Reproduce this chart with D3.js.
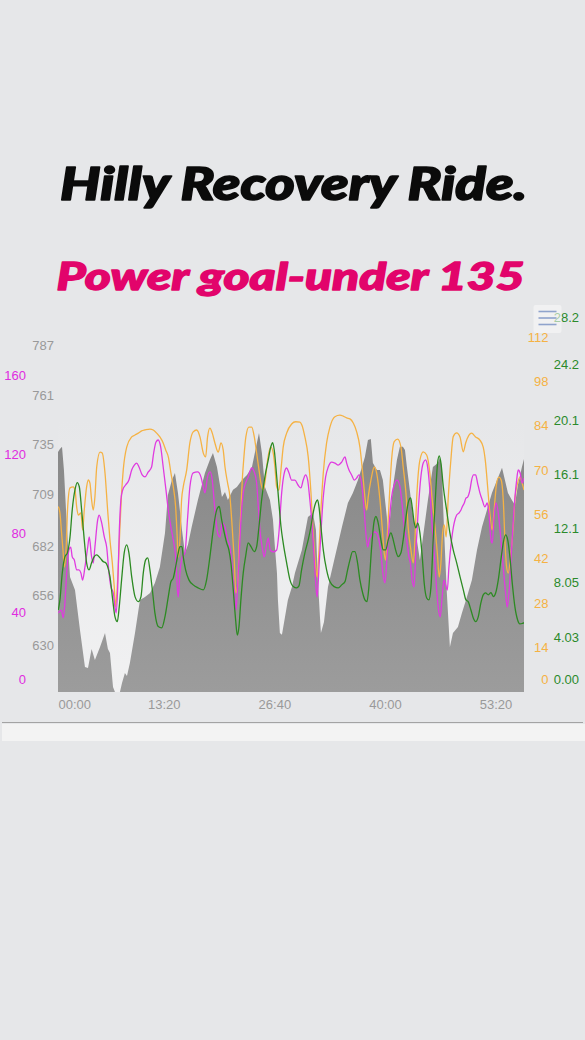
<!DOCTYPE html>
<html>
<head>
<meta charset="utf-8">
<script src="https://cdn.jsdelivr.net/npm/d3@7/dist/d3.min.js"></script>
<style>
  html, body { margin: 0; padding: 0; background: #e6e7e9; }
  svg { display: block; }
</style>
</head>
<body>
<svg id="chart" width="585" height="1040"></svg>
<script>
// Ride time in seconds for each series sample
const elevTime = [35,49,64,78,93,107,122,158,194,230,252,278,302,339,375,396,411,433,447,483,498,519,534,555,592,628,664,701,736,772,809,830,859,881,903,932,953,975,1002,1047,1098,1134,1156,1185,1221,1243,1264,1301,1329,1366,1402,1438,1474,1489,1510,1532,1568,1590,1604,1619,1626,1640,1655,1677,1698,1727,1749,1799,1843,1879,1901,1915,1930,1937,1959,1988,2038,2089,2132,2168,2205,2234,2255,2277,2298,2313,2342,2364,2385,2414,2422,2436,2458,2487,2508,2530,2545,2559,2595,2631,2653,2682,2711,2747,2783,2798,2812,2819,2834,2848,2870,2892,2928,2957,2993,3029,3066,3102,3138,3174,3211,3247,3268,3290,3318,3340,3362,3391,3406];
// Elevation (m)
const elevation = [731.5,733.1,734.2,722.1,701.2,682.9,666.1,659.3,638.4,619.0,618.5,628.4,622.7,629.5,636.8,628.4,626.3,608.5,605.9,605.9,610.6,615.9,614.3,621.1,636.8,654.1,655.6,657.7,663.0,671.3,689.1,709.0,716.9,720.5,710.1,690.7,678.7,682.9,692.3,706.4,720.5,727.4,731.0,723.7,708.0,710.6,706.4,711.7,713.2,716.9,719.5,723.7,736.3,741.5,731.0,713.2,706.4,696.0,681.8,668.2,654.1,636.8,635.8,645.2,654.1,660.9,668.2,680.2,697.5,699.6,690.7,664.5,645.2,636.8,642.6,660.9,676.6,692.3,704.8,710.1,716.9,723.7,728.9,737.8,738.3,725.8,722.1,722.1,716.9,697.5,685.5,695.9,713.2,727.4,734.2,734.2,732.6,723.7,702.8,685.5,675.0,690.7,706.4,723.7,725.8,728.4,723.7,706.4,680.2,657.7,629.5,636.8,639.9,647.3,655.6,664.5,680.2,692.3,701.2,710.1,716.9,723.2,716.9,710.1,706.4,703.8,714.3,723.7,727.9];

const powerTime = [37,59,73,85,98,114,127,138,153,170,187,201,213,230,250,261,278,290,302,322,333,351,370,387,404,418,435,447,456,467,478,490,503,524,548,568,587,604,621,644,664,688,712,727,744,760,778,796,816,833,852,869,886,901,905,917,934,953,973,989,1013,1045,1069,1086,1098,1117,1136,1151,1170,1190,1206,1223,1243,1262,1279,1295,1310,1322,1334,1351,1363,1375,1392,1411,1436,1455,1472,1484,1498,1512,1527,1541,1556,1570,1592,1617,1633,1653,1672,1689,1706,1725,1749,1771,1792,1809,1826,1841,1857,1874,1889,1901,1910,1923,1937,1954,1971,1990,2014,2038,2062,2087,2111,2123,2140,2159,2178,2195,2212,2231,2248,2262,2275,2286,2304,2323,2340,2356,2371,2385,2400,2414,2429,2448,2467,2487,2506,2521,2540,2557,2574,2584,2597,2610,2624,2641,2660,2677,2694,2709,2725,2742,2762,2776,2791,2800,2814,2827,2839,2851,2863,2882,2901,2919,2935,2950,2959,2974,2986,2998,3015,3027,3041,3056,3070,3087,3104,3123,3140,3152,3167,3176,3190,3203,3220,3239,3256,3273,3285,3299,3316,3335,3353,3364,3378,3393,3406];
// Power (W)
const power = [40.0,41.5,37.5,45.1,60.2,71.9,73.4,68.4,66.8,61.8,61.8,60.2,56.7,63.3,73.4,78.5,68.4,65.3,73.4,87.1,89.6,85.6,78.5,73.4,60.2,53.2,50.1,43.0,40.0,53.2,80.5,97.2,102.3,104.8,107.3,112.4,114.9,115.9,113.9,109.9,108.9,111.4,113.9,121.0,126.6,127.6,124.0,113.9,102.3,92.1,83.5,77.0,68.4,50.1,48.1,60.2,68.4,70.4,88.6,103.8,110.9,111.4,108.9,103.8,100.8,108.9,111.4,107.3,92.1,80.5,78.5,85.6,83.5,77.0,73.4,63.3,51.6,41.5,53.2,77.0,92.1,100.8,105.8,108.9,113.4,111.4,105.8,93.7,80.5,73.4,68.4,73.4,78.0,71.9,70.9,71.9,80.5,100.8,110.9,113.4,110.9,107.3,107.3,104.8,103.3,107.3,109.9,107.3,97.2,83.5,66.8,53.2,48.1,63.3,80.5,98.7,108.9,113.9,116.4,115.9,114.9,116.4,119.0,115.9,112.4,109.9,107.3,108.3,109.9,105.8,93.7,80.5,73.4,77.0,79.5,81.0,80.5,77.0,70.4,60.2,55.2,66.8,83.5,98.7,104.8,107.3,104.8,97.2,83.5,77.0,68.4,65.3,56.7,53.2,71.9,92.1,108.9,115.9,117.5,113.9,102.3,83.5,65.3,50.1,40.0,38.0,48.1,56.7,54.2,51.6,63.3,77.0,85.6,89.6,90.6,92.1,93.7,95.7,98.2,98.7,102.3,107.3,109.9,109.9,105.8,100.8,97.2,93.7,95.7,90.6,77.0,75.4,88.6,95.7,90.6,77.0,63.3,50.1,43.0,51.6,71.9,93.7,107.3,112.4,110.9,105.8,108.3];

const cadenceTime = [37,49,61,71,80,93,105,122,145,158,170,182,201,213,225,242,254,266,278,290,302,315,339,355,375,394,411,428,442,452,461,471,483,495,507,532,568,592,616,640,664,700,724,749,772,796,814,833,852,869,886,895,905,917,929,941,966,989,1013,1038,1062,1086,1103,1117,1134,1151,1170,1194,1214,1230,1243,1262,1279,1295,1310,1322,1334,1344,1358,1368,1380,1394,1416,1436,1455,1472,1489,1503,1520,1537,1551,1575,1592,1604,1617,1633,1648,1664,1689,1725,1754,1785,1799,1821,1845,1865,1881,1899,1910,1923,1937,1954,1978,2002,2038,2074,2098,2123,2147,2171,2195,2219,2239,2255,2268,2279,2299,2323,2340,2364,2380,2395,2405,2418,2431,2448,2467,2492,2516,2532,2552,2568,2588,2605,2617,2629,2653,2677,2702,2725,2742,2762,2779,2793,2805,2817,2829,2843,2857,2877,2894,2919,2943,2967,2984,3008,3027,3056,3087,3111,3128,3143,3159,3176,3190,3208,3224,3241,3256,3268,3280,3292,3309,3328,3340,3360,3376,3393,3406];
// Cadence (rpm)
const cadence = [58.6,56.6,50.2,44.9,39.5,44.9,58.5,64.5,64.8,63.8,58.5,55.9,56.6,51.2,57.5,64.8,67.0,66.0,60.7,57.5,61.6,71.1,75.8,75.5,69.2,57.5,48.0,40.8,33.2,26.9,31.3,39.5,52.1,62.9,70.2,77.4,80.6,81.2,81.8,82.5,82.8,83.1,82.8,81.8,80.6,78.7,76.5,74.3,69.2,64.8,58.5,51.2,42.7,48.0,60.7,64.8,70.2,78.7,82.2,82.8,80.6,75.5,74.3,80.6,83.4,81.8,78.7,75.8,78.7,76.5,71.1,66.0,61.6,52.1,41.7,31.3,33.2,45.8,57.5,67.0,74.3,80.6,83.7,83.7,80.6,75.5,70.2,66.0,63.8,67.9,73.3,77.4,75.5,71.1,64.8,63.8,70.2,77.4,81.8,84.7,85.4,85.3,84.4,80.6,74.3,62.9,50.2,39.5,36.3,44.9,57.5,69.2,78.7,83.7,87.0,87.5,87.2,86.6,86.3,85.0,82.3,77.4,69.2,61.6,57.5,61.6,67.0,71.1,69.2,60.7,52.1,43.9,41.7,50.2,60.7,73.3,79.1,79.9,77.4,71.1,62.9,52.1,44.9,40.8,48.0,60.7,73.3,75.9,74.9,69.2,60.7,52.1,43.9,36.3,40.8,50.2,52.8,49.0,60.7,73.3,80.7,81.9,80.6,75.9,78.7,81.2,81.8,80.6,79.6,77.4,72.4,64.8,56.6,51.2,57.5,66.0,67.9,67.0,60.7,48.0,39.5,37.6,42.7,52.1,60.7,66.0,67.9,66.0,63.8];

const speedTime = [37,49,66,85,103,122,138,158,174,189,206,225,242,259,278,297,315,339,362,380,394,411,428,447,464,478,495,514,532,548,568,592,616,635,652,669,684,700,720,736,760,785,809,833,852,869,886,905,917,932,941,958,982,1013,1050,1086,1110,1134,1158,1183,1201,1219,1238,1255,1271,1286,1303,1320,1332,1344,1358,1375,1392,1411,1431,1455,1472,1489,1508,1532,1556,1575,1588,1599,1617,1633,1648,1664,1689,1713,1737,1761,1778,1797,1821,1845,1865,1881,1899,1913,1923,1937,1954,1978,2002,2033,2062,2087,2111,2130,2147,2166,2183,2202,2219,2239,2255,2270,2284,2304,2320,2335,2351,2371,2388,2405,2424,2443,2460,2477,2496,2516,2532,2550,2568,2586,2597,2612,2624,2637,2653,2670,2684,2702,2718,2733,2749,2767,2781,2793,2805,2822,2846,2870,2894,2919,2943,2967,2986,3002,3022,3039,3056,3075,3094,3111,3128,3148,3167,3184,3201,3220,3239,3256,3273,3288,3304,3321,3340,3360,3376,3393,3406];
// Speed (km/h)
const speed = [6.07,6.82,8.82,10.0,10.3,11.48,13.48,14.97,15.5,15.19,13.48,11.26,9.56,9.04,9.56,10.02,10.15,9.93,9.65,9.56,9.28,8.54,7.06,5.58,5.21,6.30,8.30,10.30,10.89,10.30,8.54,7.06,6.69,7.04,8.82,9.78,9.93,9.04,7.33,5.85,4.84,4.74,5.58,7.06,8.17,8.45,9.28,10.30,10.76,10.76,10.0,9.04,8.30,7.93,7.70,7.56,8.30,10.02,12.0,13.48,13.73,12.74,11.78,11.04,10.52,9.56,7.56,5.33,4.22,4.82,6.82,8.82,10.02,11.04,10.76,10.39,10.76,12.25,14.22,15.95,17.19,18.17,18.45,17.93,15.95,14.0,12.25,11.04,9.56,8.30,7.80,7.70,7.85,9.04,10.30,11.26,12.25,13.26,14.0,14.22,13.70,12.25,10.52,9.04,8.17,7.80,7.70,7.93,8.17,9.04,9.78,10.39,10.39,9.56,8.30,7.33,6.82,6.69,7.78,10.76,12.52,12.99,12.52,11.26,10.52,10.52,11.26,11.78,11.26,10.52,10.02,10.30,11.26,12.74,14.0,14.37,13.70,12.52,12.15,12.52,11.78,10.0,8.07,6.96,6.82,7.78,11.26,14.74,16.96,17.48,16.96,15.21,13.48,11.78,10.52,9.56,8.54,7.56,6.82,6.69,6.07,5.48,5.21,5.56,6.59,7.19,7.33,7.19,7.36,7.06,7.33,8.30,9.78,11.04,11.63,11.26,10.02,8.07,6.32,5.33,5.04,5.07,5.13];

// Axis ticks
const timeTicks = [0, 800, 1600, 2400, 3200];
const elevTicks = [630, 656, 682, 709, 735, 761, 787];
const powerTicks = [0, 40, 80, 120, 160];
const cadenceTicks = [0, 14, 28, 42, 56, 70, 84, 98, 112];
const speedTicks = [0, 4.03, 8.05, 12.1, 16.1, 20.1, 24.2, 28.2];
const speedTickLabels = ["0.00", "4.03", "8.05", "12.1", "16.1", "20.1", "24.2", "28.2"];

const titleText = "Hilly Recovery Ride.";
const subtitleText = "Power goal-under 135";

// Layout
const plot = { left: 58, right: 524, top: 311, bottom: 692 };
const colors = {
  bg: "#e6e7e9",
  power: "#e03ae0",
  powerLabel: "#e02ce0",
  cadence: "#f5b244",
  speed: "#2c8a22",
  speedLabel: "#2b8a2b",
  axisText: "#999999"
};

const svg = d3.select("#chart");

svg.append("rect").attr("width", 585).attr("height", 1040).attr("fill", colors.bg);

// Titles (stroked in their own colour for a heavier face)
svg.append("text")
  .attr("x", 60).attr("y", 200)
  .attr("textLength", 467).attr("lengthAdjust", "spacingAndGlyphs")
  .style("font-family", "Lato, 'Open Sans', sans-serif")
  .style("font-weight", 900).style("font-style", "italic")
  .style("font-size", "45px")
  .attr("fill", "#0b0b0b").attr("stroke", "#0b0b0b").attr("stroke-width", 1.6)
  .attr("stroke-linejoin", "round")
  .text(titleText);

svg.append("text")
  .attr("x", 56.5).attr("y", 290)
  .attr("textLength", 468).attr("lengthAdjust", "spacingAndGlyphs")
  .style("font-family", "Lato, 'Open Sans', sans-serif")
  .style("font-weight", 900).style("font-style", "italic")
  .style("font-size", "38px")
  .attr("fill", "#e2046b").attr("stroke", "#e2046b").attr("stroke-width", 1.4)
  .attr("stroke-linejoin", "round")
  .text(subtitleText);

// Scales
const x = d3.scaleLinear().domain([35, 3406]).range([plot.left, plot.right]);
const yElev = d3.scaleLinear().domain([605.9, 805.3]).range([plot.bottom, plot.top]);
const yPower = d3.scaleLinear().domain([0, 192.9]).range([plot.bottom, plot.top]);
const yCad = d3.scaleLinear().domain([0, 120.4]).range([plot.bottom, plot.top]);
const ySpeed = d3.scaleLinear().domain([0, 28.2]).range([plot.bottom, plot.top]);

const defs = svg.append("defs");
const bgGrad = defs.append("linearGradient").attr("id", "plotBg")
  .attr("gradientUnits", "userSpaceOnUse")
  .attr("x1", 0).attr("x2", 0).attr("y1", 420).attr("y2", plot.bottom);
bgGrad.append("stop").attr("offset", 0).attr("stop-color", "#e6e7e9");
bgGrad.append("stop").attr("offset", 1).attr("stop-color", "#f1f1f2");

const areaGrad = defs.append("linearGradient").attr("id", "elevFill")
  .attr("gradientUnits", "userSpaceOnUse")
  .attr("x1", 0).attr("x2", 0).attr("y1", 430).attr("y2", plot.bottom);
areaGrad.append("stop").attr("offset", 0).attr("stop-color", "#878787");
areaGrad.append("stop").attr("offset", 1).attr("stop-color", "#9c9c9c");

defs.append("clipPath").attr("id", "plotClip")
  .append("rect")
  .attr("x", plot.left).attr("y", plot.top - 5)
  .attr("width", plot.right - plot.left).attr("height", plot.bottom - plot.top + 5);

svg.append("rect")
  .attr("x", plot.left).attr("y", 420)
  .attr("width", plot.right - plot.left).attr("height", plot.bottom - 420)
  .attr("fill", "url(#plotBg)");

const g = svg.append("g").attr("clip-path", "url(#plotClip)");

const elevData = d3.zip(elevTime, elevation);
const powerData = d3.zip(powerTime, power);
const cadData = d3.zip(cadenceTime, cadence);
const speedData = d3.zip(speedTime, speed);

g.append("path")
  .datum(elevData)
  .attr("fill", "url(#elevFill)")
  .attr("d", d3.area()
    .x(d => x(d[0]))
    .y0(yElev(yElev.domain()[0]))
    .y1(d => yElev(d[1])));

function drawLine(data, yScale, color) {
  g.append("path")
    .datum(data)
    .attr("fill", "none")
    .attr("stroke", color)
    .attr("stroke-width", 1.3)
    .attr("stroke-linejoin", "round")
    .attr("d", d3.line()
      .curve(d3.curveMonotoneX)
      .x(d => x(d[0]))
      .y(d => yScale(d[1])));
}

drawLine(cadData, yCad, colors.cadence);
drawLine(powerData, yPower, colors.power);
drawLine(speedData, ySpeed, colors.speed);

// Y axes (labels only), labels kept inside the label band
const labelFont = "'Liberation Sans', Arial, sans-serif";
function drawYAxis(scale, ticks, xPos, color, fmt) {
  const axis = d3.axisLeft(scale).tickValues(ticks).tickSize(0).tickPadding(0);
  if (fmt) axis.tickFormat(fmt);
  const ax = svg.append("g").attr("transform", `translate(${xPos},0)`).call(axis);
  ax.select(".domain").remove();
  ax.selectAll(".tick")
    .attr("transform", d => `translate(0,${Math.max(318, Math.min(680, scale(d)))})`);
  ax.selectAll("text")
    .attr("fill", color)
    .style("font-family", labelFont)
    .style("font-size", "13px");
  return ax;
}

drawYAxis(yElev, elevTicks, 54, colors.axisText, d => String(d));
drawYAxis(yPower, powerTicks, 26, colors.powerLabel, d => String(d));
drawYAxis(yCad, cadenceTicks, 548.5, colors.cadence, d => String(d));
drawYAxis(ySpeed, speedTicks, 579, colors.speedLabel, (d, i) => speedTickLabels[i]);

// X axis
const fmtTime = s => {
  const m = Math.floor(s / 60), sec = s % 60;
  return String(m).padStart(2, "0") + ":" + String(sec).padStart(2, "0");
};
const xAxis = d3.axisBottom(x).tickValues(timeTicks).tickFormat(fmtTime).tickSize(0).tickPadding(8);
const xg = svg.append("g").attr("transform", `translate(0,${plot.bottom})`).call(xAxis);
xg.select(".domain").remove();
xg.selectAll("text")
  .attr("fill", colors.axisText)
  .style("font-family", labelFont)
  .style("font-size", "13px");
xg.selectAll(".tick").each(function (d) {
  const t = d3.select(this).select("text");
  const w = t.node().getComputedTextLength();
  const cx = x(d);
  if (cx - w / 2 < plot.left) t.attr("x", plot.left - cx + w / 2);
});

// Context menu button
const btn = svg.append("g");
btn.append("rect")
  .attr("x", 533.5).attr("y", 305).attr("width", 28).attr("height", 28).attr("rx", 2)
  .attr("fill", "#f8f8f9").attr("fill-opacity", 0.6);
[311.5, 318, 324.5].forEach(yy => {
  btn.append("line")
    .attr("x1", 538.5).attr("x2", 556.5).attr("y1", yy).attr("y2", yy)
    .attr("stroke", "#8fa3cc").attr("stroke-width", 1.6);
});

// Navigator strip below the chart
svg.append("line")
  .attr("x1", 2).attr("x2", 583).attr("y1", 722.5).attr("y2", 722.5)
  .attr("stroke", "#a3a3a3").attr("stroke-width", 1);
svg.append("rect")
  .attr("x", 2).attr("y", 724).attr("width", 583).attr("height", 17)
  .attr("fill", "#f3f3f3");
</script>
</body>
</html>
